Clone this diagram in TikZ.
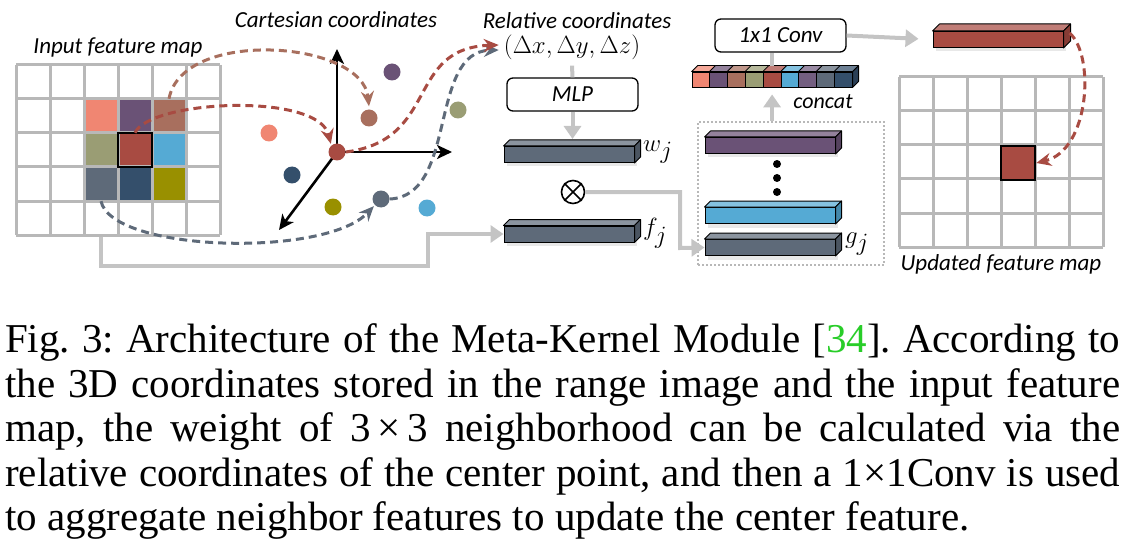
\documentclass[tikz,border=0pt]{standalone}
\usepackage{fontspec}
\setmainfont{Liberation Serif}
\newfontfamily\labfont{Carlito}
\usetikzlibrary{arrows.meta,shadows}
\definecolor{cSalmon}{HTML}{F08672}
\definecolor{cPurple}{HTML}{6A5276}
\definecolor{cPurpleB}{HTML}{735E80}
\definecolor{cBrown}{HTML}{A86F5E}
\definecolor{cOliveGray}{HTML}{9A9D74}
\definecolor{cRed}{HTML}{A84B42}
\definecolor{cBlue}{HTML}{55AAD4}
\definecolor{cSlate}{HTML}{5E6A79}
\definecolor{cNavy}{HTML}{344F6B}
\definecolor{cOlive}{HTML}{999000}
\definecolor{cGrid}{HTML}{B8B8B8}
\definecolor{cLine}{HTML}{C4C4C4}
\definecolor{cGreen}{RGB}{40,205,40}
\newcommand\barfaces[3]{%
  \filldraw[fill=#2!72!white, draw=black, line width=1pt, line join=round]
    (#1.north west) -- ++(#3,-#3) -- ([shift={(#3,-#3)}]#1.north east) -- (#1.north east) -- cycle;
  \filldraw[fill=#2!80!black, draw=black, line width=1pt, line join=round]
    (#1.north east) -- ++(#3,-#3) -- ([shift={(#3,-#3)}]#1.south east) -- (#1.south east) -- cycle;}
\frenchspacing
\begin{document}
\begin{tikzpicture}[x=1pt,y=-1pt,
  lab/.style={font=\labfont\itshape\fontsize{23}{23}\selectfont, inner sep=0},
  cellf/.style={minimum size=34pt, inner sep=0, draw=none},
  dot/.style={circle, minimum size=17pt, inner sep=0},
  gridl/.style={draw=cGrid, line width=3pt},
  garrow/.style={draw=cLine, line width=4pt, -{Triangle[length=13pt,width=17pt]}},
  gline/.style={draw=cLine, line width=4pt},
  dcon/.style={line width=3pt, dash pattern=on 8pt off 5pt, -{Stealth[length=15pt,width=13pt,inset=5pt]}},
  axis/.style={line width=2.6pt, -{Stealth[length=15pt,width=14pt,inset=4pt]}},
  bar/.style={draw=black, line width=1pt, minimum width=130pt, minimum height=16pt, inner sep=0,
    drop shadow={opacity=0.18, shadow xshift=3pt, shadow yshift=-4pt}},
  cube/.style={draw=black, line width=0.8pt, minimum width=17.8pt, minimum height=15pt, inner sep=0},
  opbox/.style={draw=black, line width=1.3pt, rounded corners=6pt, minimum width=131pt, minimum height=33pt, inner sep=0,
    font=\labfont\itshape\fontsize{23}{23}\selectfont},
  mathlab/.style={inner sep=0, font=\fontsize{33}{33}\selectfont}]
\useasboundingbox (0,0) rectangle (1134,548);

% ---------------- input feature map ----------------
\node[lab] (tin) at (118,47) {Input feature map};
\node[cellf, fill=cSalmon]    (c21) at (101,116) {};
\node[cellf, fill=cPurple]    (c31) at (135,116) {};
\node[cellf, fill=cBrown]     (c41) at (169,116) {};
\node[cellf, fill=cOliveGray] (c22) at (101,150) {};
\node[cellf, fill=cRed]       (c32) at (135,150) {};
\node[cellf, fill=cBlue]      (c42) at (169,150) {};
\node[cellf, fill=cSlate]     (c23) at (101,184) {};
\node[cellf, fill=cNavy]      (c33) at (135,184) {};
\node[cellf, fill=cOlive]     (c43) at (169,184) {};
\foreach \i in {0,...,6} \draw[gridl] (16+34*\i,65) -- (16+34*\i,235);
\foreach \j in {0,...,5} \draw[gridl] (16,65+34*\j) -- (220,65+34*\j);
\draw[line width=2.5pt] (c32.north west) rectangle (c32.south east);
\coordinate (gstart) at (101,236.5);

% ---------------- cartesian coordinates ----------------
\node[lab] (tcart) at (336,20) {Cartesian coordinates};
\coordinate (o) at (337,152);
\coordinate (axu) at (337,49);
\coordinate (axr) at (452,152);
\coordinate (axd) at (279,230);
\draw[axis] (o) -- (axu);
\draw[axis] (o) -- (axr);
\draw[axis] (o) -- (axd);
\node[dot, fill=cRed]       (dc) at (337,152) {};
\node[dot, fill=cPurple]    (dp) at (392,72) {};
\node[dot, fill=cBrown]     (db) at (369,118) {};
\node[dot, fill=cSalmon]    (ds) at (269,133) {};
\node[dot, fill=cNavy]      (dn) at (292,175) {};
\node[dot, fill=cOlive]     (dol) at (333,207) {};
\node[dot, fill=cSlate]     (dsl) at (381,199) {};
\node[dot, fill=cBlue]      (dbl) at (427,208) {};
\node[dot, fill=cOliveGray] (dog) at (458,110) {};

% ---------------- relative coordinates ----------------
\node[lab] (trel) at (577,21) {Relative coordinates};
\node[inner sep=2pt, font=\fontsize{25}{25}\selectfont] (delta) at (572,47) {$(\Delta x,\Delta y,\Delta z)$};

% dashed connectors
\draw[dcon, cBrown] (c41.north) .. controls (182,28) and (362,40) .. ([yshift=3pt]db.north);
\draw[dcon, cRed] (c32.north) .. controls (150,100) and (318,92) .. ([yshift=2pt]dc.north west);
\draw[dcon, cSlate] (c23.south) .. controls (112,252) and (325,258) .. ([shift={(-1pt,-1pt)}]dsl.south west);
\draw[dcon, cSlate] (dsl.east) .. controls (458,196) and (428,52) .. ([shift={(-3pt,-3pt)}]delta.west);
\draw[dcon, cRed] (dc.east) .. controls (440,140) and (405,48) .. ([shift={(-3pt,2pt)}]delta.west);

% ---------------- MLP branch ----------------
\node[opbox] (mlp) at (572.5,94.5) {MLP};
\draw[gline] ([yshift=-4pt]delta.south) -- (mlp.north);
\node[bar, fill=cSlate] (wj) at (569,154.5) {};
\barfaces{wj}{cSlate}{6}
\node[mathlab, anchor=west] (lw) at (643,152) {$w_j$};
\draw[garrow, shorten >=7pt] (mlp.south) -- (mlp.south |- wj.north);

\node[circle, draw, line width=1.6pt, minimum size=23pt, inner sep=0] (ot) at (573,192) {};
\draw[line width=1.6pt] (ot.north west) -- (ot.south east) (ot.north east) -- (ot.south west);

\node[bar, fill=cSlate] (fj) at (569,234) {};
\barfaces{fj}{cSlate}{6}
\node[mathlab, anchor=west] (lf) at (643,233) {$f_j$};
\draw[garrow] (gstart) |- (428,266) |- (fj.west);

% ---------------- g_j stack ----------------
\node[draw=cGrid, line width=2pt, dash pattern=on 2pt off 2pt, minimum width=186pt, minimum height=143pt, inner sep=0] (dbox) at (791,193.5) {};
\node[bar, fill=cPurple] (pj) at (770,145.5) {};
\barfaces{pj}{cPurple}{6}
\node[circle, fill=black, minimum size=8pt, inner sep=0] (d1) at (777,164) {};
\node[circle, fill=black, minimum size=8pt, inner sep=0] (d2) at (777,178) {};
\node[circle, fill=black, minimum size=8pt, inner sep=0] (d3) at (777,192) {};
\node[bar, fill=cBlue] (bj) at (770,215.5) {};
\barfaces{bj}{cBlue}{6}
\node[bar, fill=cSlate] (gj) at (770,247.5) {};
\barfaces{gj}{cSlate}{6}
\node[mathlab, anchor=west] (lg) at (845,244) {$g_j$};
\draw[garrow] (ot.east) -| (680,248) -- (gj.west);

% ---------------- concat ----------------
\foreach \c [count=\i from 0] in {cSalmon,cPurple,cBrown,cOliveGray,cRed,cBlue,cPurpleB,cSlate,cNavy} {
  \node[cube, fill=\c] (cc\i) at (700.9+17.8*\i,79.5) {};
  \filldraw[fill=\c!72!white, draw=black, line width=0.8pt, line join=round]
    (cc\i.north west) -- ++(6,-6) -- ([shift={(6,-6)}]cc\i.north east) -- (cc\i.north east) -- cycle;
}
\filldraw[fill=cNavy!80!black, draw=black, line width=0.8pt, line join=round]
  (cc8.north east) -- ++(6,-6) -- ([shift={(6,-6)}]cc8.south east) -- (cc8.south east) -- cycle;
\node[lab, font=\labfont\itshape\fontsize{22}{22}\selectfont] (tcon) at (823,102) {concat};
\draw[garrow, shorten >=7pt] (cc4.south |- dbox.north) -- (cc4.south);

\node[opbox] (conv) at (780.5,35.5) {1x1 Conv};
\draw[gline] ([yshift=6pt]cc4.north) -- (cc4.north |- conv.south);

% ---------------- output ----------------
\node[bar, fill=cRed] (ob) at (998,39.5) {};
\barfaces{ob}{cRed}{7}
\draw[garrow, shorten >=14pt] (conv.east) -- (ob.west);

\foreach \i in {0,...,6} \draw[gridl] (899+34*\i,77) -- (899+34*\i,247);
\foreach \j in {0,...,5} \draw[gridl] (899,77+34*\j) -- (1103,77+34*\j);
\node[cellf, fill=cRed, draw=black, line width=2.5pt] (uc) at (1018,163) {};
\draw[dcon, cRed] ([shift={(6pt,-2pt)}]ob.north east) .. controls (1095,55) and (1090,150) .. (uc.east);
\node[lab] (tup) at (1001,264) {Updated feature map};

% ---------------- caption ----------------
\node[anchor=north west, inner sep=0, align=left, font=\fontsize{41}{44.6}\selectfont] (cap) at (5,323.5) {%
\makebox[1115pt][s]{Fig. 3: Architecture of the Meta-Kernel Module [\textcolor{cGreen}{34}]. According to}\\
\makebox[1115pt][s]{the 3D coordinates stored in the range image and the input feature}\\
\makebox[1115pt][s]{map, the weight of 3\,×\,3 neighborhood can be calculated via the}\\
\makebox[1115pt][s]{relative coordinates of the center point, and then a 1×1Conv is used}\\
to aggregate neighbor features to update the center feature.};
\end{tikzpicture}
\end{document}
